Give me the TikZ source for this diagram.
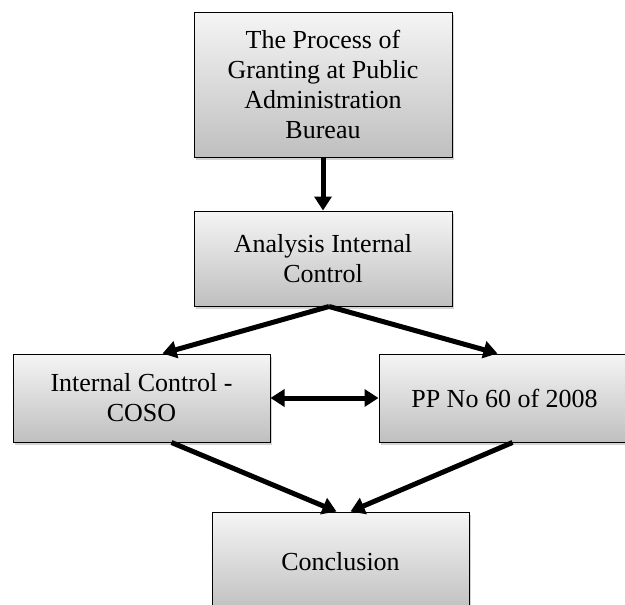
\documentclass[tikz,border=0pt]{standalone}
\usepackage{fontspec}
\setmainfont{Liberation Serif}
\usetikzlibrary{arrows.meta,shadows}

\begin{document}
\begin{tikzpicture}[x=1pt,y=-1pt,
    box/.style={draw, line width=1pt, top color=gray!8, bottom color=gray!50,
        drop shadow={shadow xshift=2pt, shadow yshift=-3pt, opacity=0.35},
        align=center, inner sep=4pt, font=\fontsize{26}{30}\selectfont},
    tip/.style={Triangle[length=14pt,width=17pt]},
    flow/.style={line width=5pt, -{Triangle[length=14pt,width=17pt]}}]
        \useasboundingbox (0,0) rectangle (625,605);

        \node[box, minimum width=258pt, minimum height=145pt] (process) at (323,84.5)
            {The Process of\\Granting at Public\\Administration\\Bureau};
        \node[box, minimum width=258pt, minimum height=95pt] (analysis) at (323,258.5)
            {Analysis Internal\\Control};
        \node[box, minimum width=257pt, minimum height=88pt] (coso) at (141.5,398)
            {Internal Control -\\COSO};
        \node[box, minimum width=251pt, minimum height=88pt] (pp) at (504.5,398)
            {PP No 60 of 2008};
        \node[box, minimum width=257pt, minimum height=100pt] (concl) at (340.5,562)
            {Conclusion};

        \draw[flow] (process) -- (analysis);
        \draw[flow] ([xshift=6pt]analysis.south) -- ([xshift=21pt]coso.north);
        \draw[flow] ([xshift=6pt]analysis.south) -- ([xshift=-7pt]pp.north);
        \draw[flow, {Triangle[length=14pt,width=17pt]}-{Triangle[length=14pt,width=17pt]}] (coso) -- (pp);
        \draw[flow] ([xshift=30pt]coso.south) -- ([xshift=-4pt]concl.north);
        \draw[flow] ([xshift=8pt]pp.south) -- ([xshift=10pt]concl.north);
    \end{tikzpicture}
\end{document}
